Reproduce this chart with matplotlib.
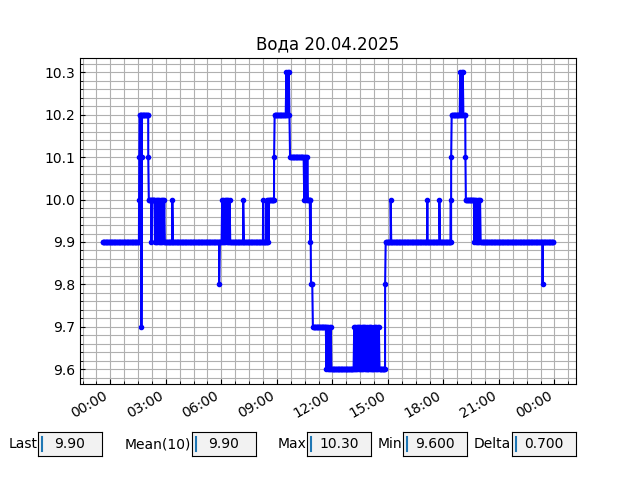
import numpy as np
import pandas as pd
import matplotlib
matplotlib.use("Agg")
import matplotlib.pyplot as plt
import matplotlib.dates as mdates
from matplotlib.ticker import AutoMinorLocator

title = "Вода 20.04.2025"
day = "2025-04-20"

# sampling of the readings (hours relative to 20.04 00:00)
t_first = -0.42
t_last = 23.95
step_h = 1 / 30

# run-length encoded levels: start hour, level, alternating level (flicker) or nan
run_start = [-0.42, 1.57, 2.07, 2.40, 2.98, 6.02, 6.45, 8.50, 8.56, 8.87,
             9.45, 9.71, 10.48, 10.70, 10.84, 10.93, 11.65, 11.95, 13.13, 13.85,
             13.94, 14.12, 14.21, 14.57, 14.87, 18.44, 18.85, 19.08, 19.21, 19.68,
             20.02]
run_value = [9.9, 10.2, 10.0, 10.0, 9.9, 10.0, 9.9, 10.0, 10.0, 10.2,
             10.3, 10.1, 10.1, 10.0, 9.8, 9.7, 9.7, 9.6, 9.7, 9.6,
             9.7, 9.6, 9.7, 9.6, 9.9, 10.2, 10.3, 10.2, 10.0, 10.0,
             9.9]
run_alt = [np.nan, np.nan, np.nan, 9.9, np.nan, 9.9, np.nan, 9.9, np.nan, np.nan,
           10.2, np.nan, 10.0, np.nan, np.nan, np.nan, 9.6, np.nan, 9.6, np.nan,
           9.6, np.nan, 9.6, np.nan, np.nan, np.nan, 10.2, np.nan, np.nan, 9.9,
           np.nan]

# single readings (spikes / intermediate steps)
spike_t = [1.555, 1.565, 1.68, 1.70, 2.05, 2.22, 3.35, 5.88, 7.18, 8.26,
           8.44, 8.85, 10.80, 14.85, 15.15, 17.13, 17.78, 18.40, 18.42, 19.19,
           23.36]
spike_v = [10.0, 10.1, 9.7, 10.1, 10.1, 9.9, 10.0, 9.8, 10.0, 10.0,
           10.0, 10.1, 9.9, 9.8, 10.0, 10.0, 10.0, 10.0, 10.1, 10.1,
           9.8]

box_labels = ["Last", "Mean(10)", "Max", "Min", "Delta"]
box_values = ["9.90", "9.90", "10.30", "9.600", "0.700"]
box_left = [0.0594, 0.30, 0.48, 0.63, 0.80]

# ---- decode readings ----
times = np.arange(t_first, t_last + 1e-9, step_h)
rs = np.array(run_start)
rv = np.array(run_value)
ra = np.array(run_alt)
idx = np.searchsorted(rs, times + 1e-9, side="right") - 1
vals = rv[idx].copy()
alt = ra[idx]
flick = (~np.isnan(alt)) & (np.arange(len(times)) % 2 == 1)
vals[flick] = alt[flick]

all_t = np.concatenate([times, np.array(spike_t)])
all_v = np.concatenate([vals, np.array(spike_v)])
order = np.argsort(all_t, kind="stable")
all_t = all_t[order]
all_v = all_v[order]
dt = pd.Timestamp(day) + pd.to_timedelta(all_t, unit="h")

fig = plt.figure(figsize=(6.4, 4.8), dpi=100)
ax = fig.add_subplot(111)
ax.plot(dt, all_v, color="b", marker=".", linestyle="-")
ax.set_title(title)
ax.xaxis.set_major_locator(mdates.HourLocator(byhour=range(0, 24, 3)))
ax.xaxis.set_major_formatter(mdates.DateFormatter("%H:%M"))
ax.xaxis.set_minor_locator(AutoMinorLocator())
ax.yaxis.set_minor_locator(AutoMinorLocator())
ax.grid(True, which="both", color="#b0b0b0", linewidth=0.8)
ax.tick_params(which="both", direction="in")
fig.autofmt_xdate()

for lab, val, left in zip(box_labels, box_values, box_left):
    bax = fig.add_axes([left, 0.05, 0.1, 0.05])
    bax.set_facecolor("0.95")
    bax.set_xticks([])
    bax.set_yticks([])
    bax.set_xlim(0, 1)
    bax.set_ylim(0, 1)
    bax.text(-0.01, 0.5, lab, transform=bax.transAxes, ha="right", va="center")
    bax.text(0.5, 0.5, val, transform=bax.transAxes, ha="center", va="center")
    bax.plot([0.055, 0.055], [0.2, 0.8], color="#1f77b4", lw=1.5)

fig.savefig("out.png", dpi=100)
